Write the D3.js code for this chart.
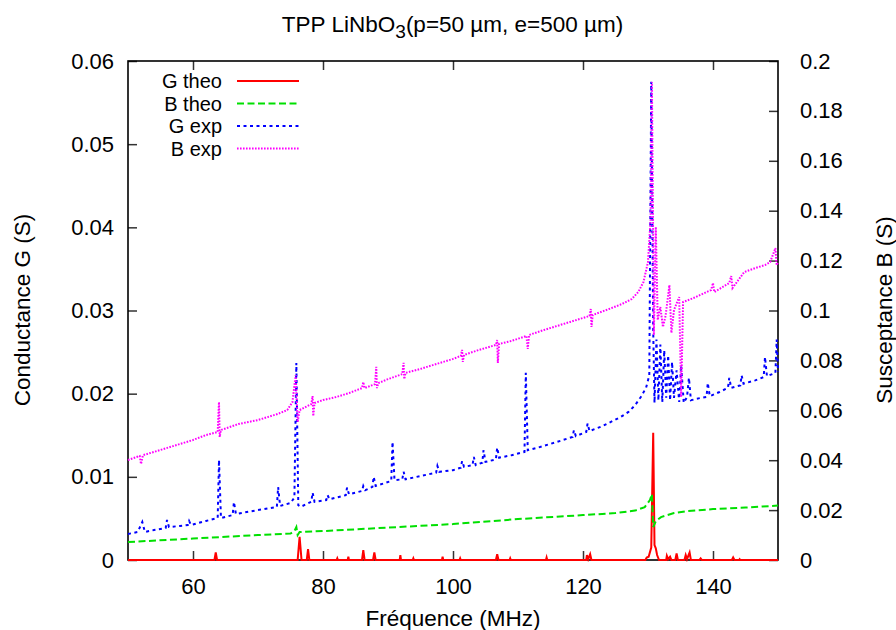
<!DOCTYPE html>
<html><head><meta charset="utf-8">
<script src="https://cdn.jsdelivr.net/npm/d3@7"></script>
<style>
html,body{margin:0;padding:0;background:#fff;}
svg{display:block;font-family:"Liberation Sans",Arial,sans-serif;}
</style></head>
<body><svg id="c" width="896" height="630"></svg>
<script>
// ---- data (frequency in MHz, G and B in S) ----
const xTicks = [60, 80, 100, 120, 140];
const yLeftTicks = [0, 0.01, 0.02, 0.03, 0.04, 0.05, 0.06];
const yRightTicks = [0, 0.02, 0.04, 0.06, 0.08, 0.1, 0.12, 0.14, 0.16, 0.18, 0.2];
const seriesNames = ["G theo", "B theo", "G exp", "B exp"];

const gTheoF = [50, 63.3, 63.5, 63.7, 76.1, 76.4, 76.7, 77.5, 77.7, 77.9, 82.1, 82.2, 82.3, 83.8, 83.9, 84.0,
  86.0, 86.2, 86.4, 87.7, 87.9, 88.1, 91.8, 91.9, 92.0, 93.8, 93.9, 94.0, 98.3, 98.4, 98.5, 101.0, 101.1, 101.2,
  106.6, 106.8, 107.0, 108.7, 108.8, 108.9, 114.3, 114.4, 114.5, 120.5, 120.6, 120.8, 121.1, 121.3,
  129.6, 129.8, 130.1, 130.5, 130.8, 131.0, 131.2, 131.4, 131.7, 132.8, 132.9, 133.1, 133.4, 133.6,
  134.2, 134.4, 134.6, 135.6, 135.8, 136.0, 136.4, 136.6, 137.9, 138.1, 138.3, 142.9, 143.1, 143.3, 144.0, 144.1, 144.2, 150];
const gTheoV = [0, 0, 0.0009, 0, 0, 0.0028, 0, 0, 0.0013, 0, 0, 0.0002, 0, 0, 0.0004, 0,
  0, 0.0012, 0, 0, 0.0009, 0, 0, 0.0006, 0, 0, 0.0002, 0, 0, 0.0004, 0, 0, 0.0002, 0,
  0, 0.0007, 0, 0, 0.0002, 0, 0, 0.0003, 0, 0, 0.0006, 0.0001, 0.0007, 0,
  0, 0.0003, 0.0004, 0.0015, 0.0153, 0.0018, 0.0014, 0.0006, 0, 0, 0.0005, 0.0001, 0.0004, 0,
  0, 0.0008, 0, 0, 0.0006, 0.0001, 0.0009, 0, 0, 0.0002, 0, 0, 0.0003, 0, 0, 0.0001, 0, 0];

const bTheoF = [50, 60, 70, 75, 75.6, 75.9, 76.1, 76.4, 80, 90, 100, 110, 120, 125, 128, 129.5, 130.3, 130.6,
  130.8, 131.2, 132, 134, 136, 140, 145, 150];
const bTheoV = [0.0072, 0.0086, 0.0100, 0.0106, 0.0116, 0.0132, 0.0100, 0.0112, 0.0116, 0.0130, 0.0144, 0.0164, 0.0180, 0.0188, 0.0198, 0.0212, 0.0240, 0.0265,
  0.0132, 0.0156, 0.0172, 0.0188, 0.0196, 0.0204, 0.0210, 0.0218];

const gExpF = [50, 51.5, 52.2, 52.6, 54, 55.8, 56, 56.3, 58, 59.2, 59.4, 59.7, 62, 63.8, 64.0, 64.3, 66.1, 66.3, 66.6,
  70, 72.9, 73.1, 73.4, 75.0, 75.6, 75.9, 76.2, 76.6, 78.2, 78.4, 78.7, 80.5, 80.7, 81, 83.5, 83.7, 84, 86, 86.2, 86.5,
  87.6, 87.8, 88.1, 90.5, 90.7, 91, 92.2, 92.4, 92.7, 95, 97.4, 97.6, 97.9, 100, 101.2, 101.4, 101.7, 103.0, 103.2, 103.5,
  104.5, 104.7, 105, 106.6, 106.8, 107.1, 109, 111.0, 111.2, 111.5, 113, 116, 118.4, 118.6, 118.9, 120.5, 120.7, 121,
  123, 125.8, 127, 128, 128.9, 129.7, 130.2, 130.5, 130.8, 131.0, 131.3, 131.6, 131.9, 132.2, 132.5, 132.8, 133.1, 133.4,
  133.7, 134.0, 134.4, 134.8, 135.1, 135.5, 136, 136.3, 136.6, 137.5, 139.0, 139.2, 139.5, 141, 142.3, 142.5, 142.8,
  144.2, 144.4, 144.7, 146.5, 147.8, 148.0, 148.3, 149.6, 149.8, 150];
const gExpV = [0.00313, 0.00337, 0.00457, 0.00337, 0.0036, 0.00385, 0.00481, 0.00397, 0.00409, 0.0042, 0.0047, 0.0042, 0.0047, 0.00505, 0.01202, 0.00505, 0.0054, 0.00697, 0.00553,
  0.0060, 0.00637, 0.00878, 0.0065, 0.00685, 0.0075, 0.0237, 0.0066, 0.0064, 0.0070, 0.0081, 0.0070, 0.0072, 0.0078, 0.0073, 0.0078, 0.0087, 0.0079, 0.0083, 0.0089, 0.0084,
  0.0088, 0.0100, 0.0089, 0.0095, 0.0142, 0.0096, 0.0097, 0.0106, 0.0097, 0.0101, 0.0105, 0.0113, 0.0106, 0.0108, 0.0111, 0.0119, 0.0112, 0.0114, 0.0124, 0.0114,
  0.0117, 0.0132, 0.0118, 0.0121, 0.0135, 0.0123, 0.0126, 0.0130, 0.0225, 0.0132, 0.0135, 0.0142, 0.0148, 0.0156, 0.0149, 0.0154, 0.0164, 0.0155,
  0.0161, 0.0172, 0.0178, 0.0186, 0.0196, 0.0207, 0.0222, 0.0575, 0.0277, 0.0189, 0.0265, 0.0192, 0.0259, 0.0190, 0.0252, 0.0195, 0.0246, 0.0192,
  0.0238, 0.0195, 0.0228, 0.0190, 0.0234, 0.0189, 0.0196, 0.0219, 0.0192, 0.0194, 0.0196, 0.0213, 0.0197, 0.0202, 0.0207, 0.0219, 0.0207,
  0.0210, 0.0222, 0.0212, 0.0216, 0.0220, 0.0244, 0.0221, 0.0225, 0.0265, 0.0226];

const bExpF = [50, 51.8, 52.0, 52.3, 55, 58, 60, 62, 63.8, 64.0, 64.1, 64.3, 67, 70, 73, 74.5, 75.3, 75.8, 76.1, 76.4,
  78.2, 78.4, 78.5, 78.7, 80, 82, 84, 86, 86.2, 86.4, 88.0, 88.2, 88.3, 88.5, 90, 92.2, 92.4, 92.5, 92.7, 95, 98, 100,
  101.2, 101.4, 101.5, 101.7, 104, 106.6, 106.8, 106.9, 107.1, 109, 111.3, 111.5, 111.7, 114, 116, 118, 121, 121.2, 121.3, 121.5,
  124, 126, 127.5, 128.5, 129.3, 130.0, 130.4, 130.6, 130.9, 131.2, 131.5, 131.9, 132.3, 132.7, 133.3, 133.6, 134.0, 134.8, 135.1, 135.4,
  137, 139.7, 140, 140.2, 142.5, 142.8, 143, 144.8, 146.5, 148, 148.8, 149.6, 149.8, 150];
const bExpV = [0.0401, 0.0417, 0.0385, 0.0420, 0.0441, 0.0465, 0.0481, 0.0501, 0.0513, 0.0633, 0.0493, 0.0521, 0.0545, 0.0561, 0.0585, 0.0601, 0.0633, 0.0741, 0.0553, 0.0601,
  0.0625, 0.0657, 0.0577, 0.0629, 0.0641, 0.0653, 0.0669, 0.0689, 0.0713, 0.0689, 0.0705, 0.0774, 0.0689, 0.0709, 0.0725, 0.0745, 0.0790, 0.0725, 0.0750, 0.0766, 0.0790, 0.0806,
  0.0818, 0.0842, 0.0794, 0.0822, 0.0842, 0.0862, 0.0882, 0.0790, 0.0866, 0.0878, 0.0898, 0.0846, 0.0902, 0.0922, 0.0938, 0.0954, 0.0978, 0.1006, 0.0934, 0.0982,
  0.1006, 0.1026, 0.1046, 0.1074, 0.1114, 0.1194, 0.1363, 0.1916, 0.0902, 0.1335, 0.0962, 0.1014, 0.0934, 0.0978, 0.1102, 0.0910, 0.1002, 0.1054, 0.0653, 0.1034,
  0.1050, 0.1082, 0.1110, 0.1074, 0.1110, 0.1138, 0.1090, 0.1154, 0.1170, 0.1182, 0.1194, 0.1250, 0.1182, 0.1194];

// ---- layout ----
const svg = d3.select("#c");
const L = 128, R = 778, T = 61, B = 560;
const x = d3.scaleLinear().domain([50, 150]).range([L, R]);
const yL = d3.scaleLinear().domain([0, 0.06]).range([B, T]);
const yR = d3.scaleLinear().domain([0, 0.2]).range([B, T]);
const fmt = d => d === 0 ? "0" : String(+d.toFixed(2));
const FS = 22.5;
const TFS = 22;
const LFS = 20;

// axes
const gx = svg.append("g").attr("transform", `translate(0,${B})`)
  .call(d3.axisBottom(x).tickValues(xTicks).tickSizeInner(-9).tickSizeOuter(0).tickPadding(18).tickFormat(d3.format("d")));
const gxt = svg.append("g").attr("transform", `translate(0,${T})`)
  .call(d3.axisTop(x).tickValues(xTicks).tickSizeInner(-9).tickSizeOuter(0).tickFormat(""));
const gy = svg.append("g").attr("transform", `translate(${L},0)`)
  .call(d3.axisLeft(yL).tickValues(yLeftTicks).tickSizeInner(-9).tickSizeOuter(0).tickPadding(14).tickFormat(fmt));
const gy2 = svg.append("g").attr("transform", `translate(${R},0)`)
  .call(d3.axisRight(yR).tickValues(yRightTicks).tickSizeInner(-9).tickSizeOuter(0).tickPadding(22).tickFormat(fmt));
[gx, gxt, gy, gy2].forEach(g => {
  g.select(".domain").remove();
  g.selectAll(".tick line").attr("stroke", "#333").attr("stroke-width", 1.5);
  g.selectAll("text").attr("font-size", TFS).attr("fill", "#000").attr("font-family", '"Liberation Sans",Arial,sans-serif');
});

// frame
svg.append("rect").attr("x", L).attr("y", T).attr("width", R - L).attr("height", B - T)
  .attr("fill", "none").attr("stroke", "#000").attr("stroke-width", 1.6);

// series
const styles = [
  {F: gTheoF, V: gTheoV, y: yL, color: "#ff0000", dash: null},
  {F: bTheoF, V: bTheoV, y: yR, color: "#00e000", dash: "7,3.5"},
  {F: gExpF, V: gExpV, y: yL, color: "#0000ff", dash: "3,3.5"},
  {F: bExpF, V: bExpV, y: yR, color: "#ff00ff", dash: "1.6,1.4"}
];
styles.forEach(s => {
  const pts = s.F.map((f, i) => [f, s.V[i]]);
  const line = d3.line().x(d => x(d[0])).y(d => s.y(d[1]));
  svg.append("path").attr("d", line(pts)).attr("fill", "none")
    .attr("stroke", s.color).attr("stroke-width", 2)
    .attr("stroke-linejoin", "miter")
    .attr("stroke-dasharray", s.dash);
});

// legend
const legY = [81, 103.5, 126, 148.5];
seriesNames.forEach((n, i) => {
  svg.append("text").attr("x", 222).attr("y", legY[i]).attr("dy", "0.35em")
    .attr("text-anchor", "end").attr("font-size", LFS).text(n);
  svg.append("line").attr("x1", 237).attr("x2", 299).attr("y1", legY[i]).attr("y2", legY[i])
    .attr("stroke", styles[i].color).attr("stroke-width", 2).attr("stroke-dasharray", styles[i].dash);
});

// titles
const title = svg.append("text").attr("x", 452.5).attr("y", 32).attr("text-anchor", "middle").attr("font-size", FS);
title.append("tspan").text("TPP LiNbO");
title.append("tspan").attr("font-size", FS * 0.85).attr("dy", 6).text("3");
title.append("tspan").attr("dy", -6).text("(p=50 µm, e=500 µm)");

svg.append("text").attr("x", 453).attr("y", 626).attr("text-anchor", "middle").attr("font-size", FS).text("Fréquence (MHz)");
svg.append("text").attr("transform", "translate(30,310) rotate(-90)").attr("text-anchor", "middle").attr("font-size", FS).text("Conductance G (S)");
svg.append("text").attr("transform", "translate(892,310) rotate(-90)").attr("text-anchor", "middle").attr("font-size", FS).text("Susceptance B (S)");
</script></body></html>
